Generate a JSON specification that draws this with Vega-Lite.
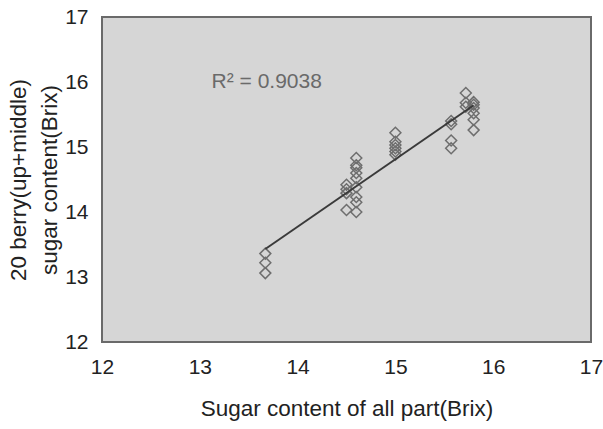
{
  "$schema": "https://vega.github.io/schema/vega-lite/v6.json",
  "width": 489,
  "height": 325,
  "autosize": {"type": "none"},
  "padding": {"left": 102, "top": 17, "right": 12, "bottom": 87},
  "background": "white",
  "config": {
    "view": {"fill": "#d6d6d6", "stroke": "#6a6a6a", "strokeWidth": 2},
    "font": "Liberation Sans",
    "axis": {
      "grid": false, "ticks": false, "domain": false, "labelFlush": false, "labelOverlap": false,
      "labelFont": "Liberation Sans", "labelFontSize": 21, "labelColor": "#222", "format": "d",
      "titleFont": "Liberation Sans", "titleFontSize": 22.5, "titleFontWeight": "normal", "titleColor": "#222"
    }
  },
  "datasets": {
    "pts": [
      {"x": 13.67, "y": 13.06}, {"x": 13.67, "y": 13.22}, {"x": 13.67, "y": 13.36},
      {"x": 14.5, "y": 14.03}, {"x": 14.5, "y": 14.29}, {"x": 14.5, "y": 14.42}, {"x": 14.5, "y": 14.35},
      {"x": 14.6, "y": 14.0}, {"x": 14.6, "y": 14.15}, {"x": 14.6, "y": 14.23}, {"x": 14.6, "y": 14.38},
      {"x": 14.6, "y": 14.52}, {"x": 14.6, "y": 14.6}, {"x": 14.6, "y": 14.68}, {"x": 14.6, "y": 14.72}, {"x": 14.6, "y": 14.83},
      {"x": 15.0, "y": 14.88}, {"x": 15.0, "y": 14.93}, {"x": 15.0, "y": 14.98}, {"x": 15.0, "y": 15.03}, {"x": 15.0, "y": 15.08}, {"x": 15.0, "y": 15.22},
      {"x": 15.57, "y": 14.98}, {"x": 15.57, "y": 15.1}, {"x": 15.57, "y": 15.35}, {"x": 15.57, "y": 15.4},
      {"x": 15.72, "y": 15.62}, {"x": 15.72, "y": 15.68}, {"x": 15.72, "y": 15.83},
      {"x": 15.8, "y": 15.26}, {"x": 15.8, "y": 15.42}, {"x": 15.8, "y": 15.52}, {"x": 15.8, "y": 15.6}, {"x": 15.8, "y": 15.69}, {"x": 15.8, "y": 15.65}
    ],
    "note": [{"x": 13.12, "y": 16.0, "label": "R² = 0.9038"}]
  },
  "layer": [
    {
      "data": {"name": "pts"},
      "mark": {"type": "point", "shape": "diamond", "size": 120, "filled": false, "stroke": "#6e6e6e", "strokeWidth": 1.5, "opacity": 1},
      "encoding": {
        "x": {"field": "x", "type": "quantitative", "scale": {"domain": [12, 17], "nice": false, "zero": false},
              "axis": {"values": [12, 13, 14, 15, 16, 17], "labelPadding": 14, "title": "Sugar content of all part(Brix)", "titlePadding": 20}},
        "y": {"field": "y", "type": "quantitative", "scale": {"domain": [12, 17], "nice": false, "zero": false},
              "axis": {"values": [12, 13, 14, 15, 16, 17], "labelPadding": 14, "title": ["20 berry(up+middle)", "sugar content(Brix)"], "titlePadding": 3, "titleLineHeight": 31}}
      }
    },
    {
      "data": {"name": "pts"},
      "transform": [{"regression": "y", "on": "x"}],
      "mark": {"type": "line", "color": "#3a3a3a", "strokeWidth": 2},
      "encoding": {
        "x": {"field": "x", "type": "quantitative"},
        "y": {"field": "y", "type": "quantitative"}
      }
    },
    {
      "data": {"name": "note"},
      "mark": {"type": "text", "align": "left", "baseline": "middle", "fontSize": 21, "color": "#6a6a6a", "font": "Liberation Sans"},
      "encoding": {
        "x": {"field": "x", "type": "quantitative"},
        "y": {"field": "y", "type": "quantitative"},
        "text": {"field": "label"}
      }
    }
  ]
}
